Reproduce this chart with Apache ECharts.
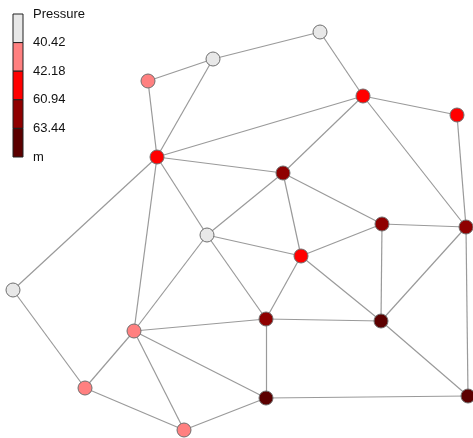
<!DOCTYPE html>
<html><head><meta charset="utf-8">
<script src="https://cdn.jsdelivr.net/npm/echarts@6/dist/echarts.min.js"></script>
<style>html,body{margin:0;padding:0;background:#fff}#c{width:473px;height:438px}</style>
</head><body><div id="c"></div>
<script>
const nodeNames = ['A','B','C','D','E','F','G','H','I','J','K','L','M','N','O','P','Q','R','S'];
const nodeX = [320,213,148,363,457,157,283,382,466,207,301,13,134,266,381,85,266,468,184];
const nodeY = [32,59,81,96,115,157,173,224,227,235,256,290,331,319,321,388,398,396,430];
const pressure = [39.5,39.8,41.2,50.0,50.5,51.0,62.0,62.2,62.4,39.9,50.2,39.6,41.5,62.1,65.0,41.3,65.2,65.1,41.4];
const links = [
  ['A','B'],['B','C'],['A','D'],['B','F'],['C','F'],['D','E'],['D','F'],['D','G'],['D','I'],
  ['E','I'],['F','G'],['F','L'],['F','M'],['F','J'],['G','J'],['G','K'],['G','H'],['J','K'],
  ['J','M'],['J','N'],['K','H'],['K','N'],['K','O'],['H','I'],['H','O'],['I','O'],['I','R'],
  ['L','P'],['M','N'],['M','P'],['M','S'],['M','Q'],['N','O'],['N','Q'],['O','R'],['P','S'],
  ['S','Q'],['Q','R']
];
const legendTitle = 'Pressure';
const legendBreaks = ['40.42','42.18','60.94','63.44'];
const legendUnit = 'm';
const classColors = ['#e8e8e8','#ff8080','#ff0000','#8f0000','#5c0000'];

const breaks = legendBreaks.map(Number);
const pieces = [
  {lt: breaks[0], color: classColors[0]},
  {gte: breaks[0], lt: breaks[1], color: classColors[1]},
  {gte: breaks[1], lt: breaks[2], color: classColors[2]},
  {gte: breaks[2], lt: breaks[3], color: classColors[3]},
  {gte: breaks[3], color: classColors[4]}
];
function colorFor(v){
  for (const p of pieces){
    if ((p.gte===undefined || v>=p.gte) && (p.lt===undefined || v<p.lt)) return p.color;
  }
}

const chart = echarts.init(document.getElementById('c'));
const legX = 13, legTop = 14, blockH = 28.6, legW = 10;
const graphic = [];
classColors.forEach((c,i)=>{
  graphic.push({type:'rect', shape:{x:legX, y:legTop+i*blockH, width:legW, height:blockH},
    style:{fill:c, stroke:'#222', lineWidth:1}});
});
const legLabels = [legendTitle].concat(legendBreaks).concat([legendUnit]);
legLabels.forEach((t,i)=>{
  graphic.push({type:'text', x:33, y:legTop+i*blockH,
    style:{text:t, font:'13px "Liberation Sans", Arial, sans-serif', fill:'#111', textVerticalAlign:'middle', textBaseline:'middle'}});
});

chart.setOption({
  animation:false,
  grid:{left:0,right:0,top:0,bottom:0},
  xAxis:{type:'value', min:0, max:473, show:false},
  yAxis:{type:'value', min:0, max:438, inverse:true, show:false},
  graphic: graphic,
  series:[{
    type:'graph',
    coordinateSystem:'cartesian2d',
    symbol:'circle',
    symbolSize:14,
    data: nodeNames.map((n,i)=>({name:n, value:[nodeX[i], nodeY[i]],
      itemStyle:{color:colorFor(pressure[i]), borderColor:'#6e6e6e', borderWidth:1}})),
    links: links.map(l=>({source:l[0], target:l[1]})),
    lineStyle:{color:'#9a9a9a', width:1.2, opacity:1},
    label:{show:false},
    z:2
  }]
});
</script></body></html>
